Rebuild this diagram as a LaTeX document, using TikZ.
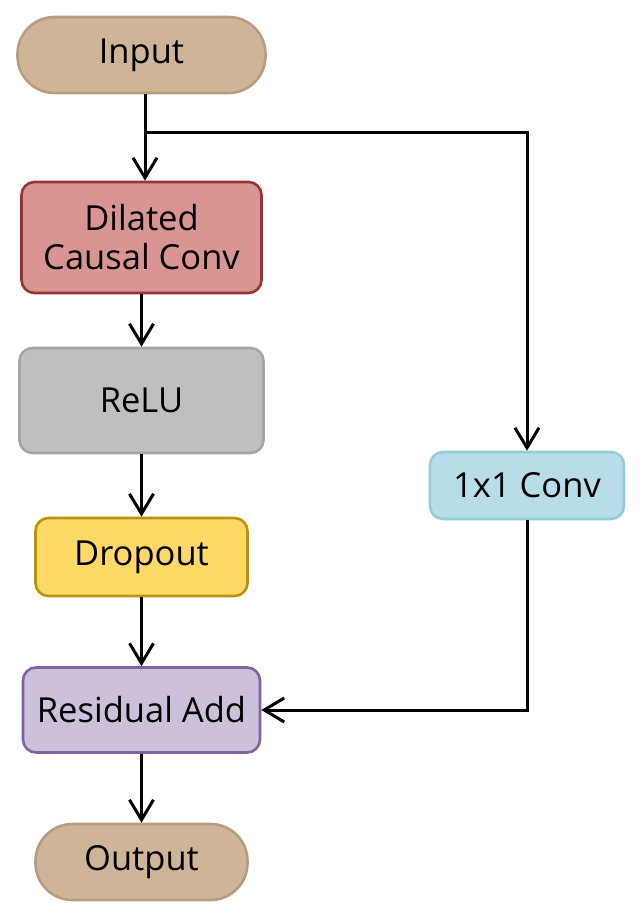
\documentclass[tikz,border=0pt]{standalone}
\usepackage{fontspec}
\setmainfont{Open Sans}
\usetikzlibrary{arrows.meta}
\definecolor{inF}{HTML}{CFB597}
\definecolor{inD}{HTML}{B89C80}
\definecolor{dcF}{HTML}{D99592}
\definecolor{dcD}{HTML}{943634}
\definecolor{reF}{HTML}{BFBFBF}
\definecolor{reD}{HTML}{A5A5A5}
\definecolor{cvF}{HTML}{B7DEE8}
\definecolor{cvD}{HTML}{93CDDD}
\definecolor{doF}{HTML}{FFD966}
\definecolor{doD}{HTML}{BF9000}
\definecolor{raF}{HTML}{CCC0DA}
\definecolor{raD}{HTML}{8064A2}
\tikzset{
  box/.style={draw, line width=2.6pt, rounded corners=13pt, inner sep=0pt, align=center,
    font=\fontsize{34.5}{39}\selectfont},
  pill/.style={box, rounded corners=37pt},
  conn/.style={line width=3pt, -{Straight Barb[length=20pt,width=24pt,line width=3pt]}},
}
\begin{document}
\begin{tikzpicture}[x=1pt,y=-1pt]
\useasboundingbox (0,0) rectangle (641,917);
\node[pill, fill=inF, draw=inD, minimum width=248pt, minimum height=76pt] (in) at (141.5,55) {Input};
\node[box, fill=dcF, draw=dcD, minimum width=240pt, minimum height=111pt] (dc) at (141.5,237.5) {Dilated\\Causal Conv};
\node[box, fill=reF, draw=reD, minimum width=244pt, minimum height=105pt] (re) at (141.5,400.5) {ReLU};
\node[box, fill=cvF, draw=cvD, minimum width=194pt, minimum height=67pt] (cv) at (527,485.5) {1x1 Conv};
\node[box, fill=doF, draw=doD, minimum width=212pt, minimum height=78pt] (do) at (141.5,557) {Dropout};
\node[box, fill=raF, draw=raD, minimum width=237pt, minimum height=85pt] (ra) at (141.5,710) {Residual Add};
\node[pill, fill=inF, draw=inD, minimum width=212pt, minimum height=76pt] (out) at (141.5,862) {Output};
\coordinate (br) at (145,133);
\coordinate (brR) at (527,133);
\coordinate (cvL) at (527,710);
\draw[conn] ([xshift=3.5pt]in.south) -- ([xshift=3.5pt]dc.north);
\draw[conn] (br) -- (brR) -- (cv.north);
\draw[conn] (dc.south) -- (re.north);
\draw[conn] (re.south) -- (do.north);
\draw[conn] (do.south) -- (ra.north);
\draw[conn] (cv.south) -- (cvL) -- (ra.east);
\draw[conn] (ra.south) -- (out.north);
\end{tikzpicture}
\end{document}
